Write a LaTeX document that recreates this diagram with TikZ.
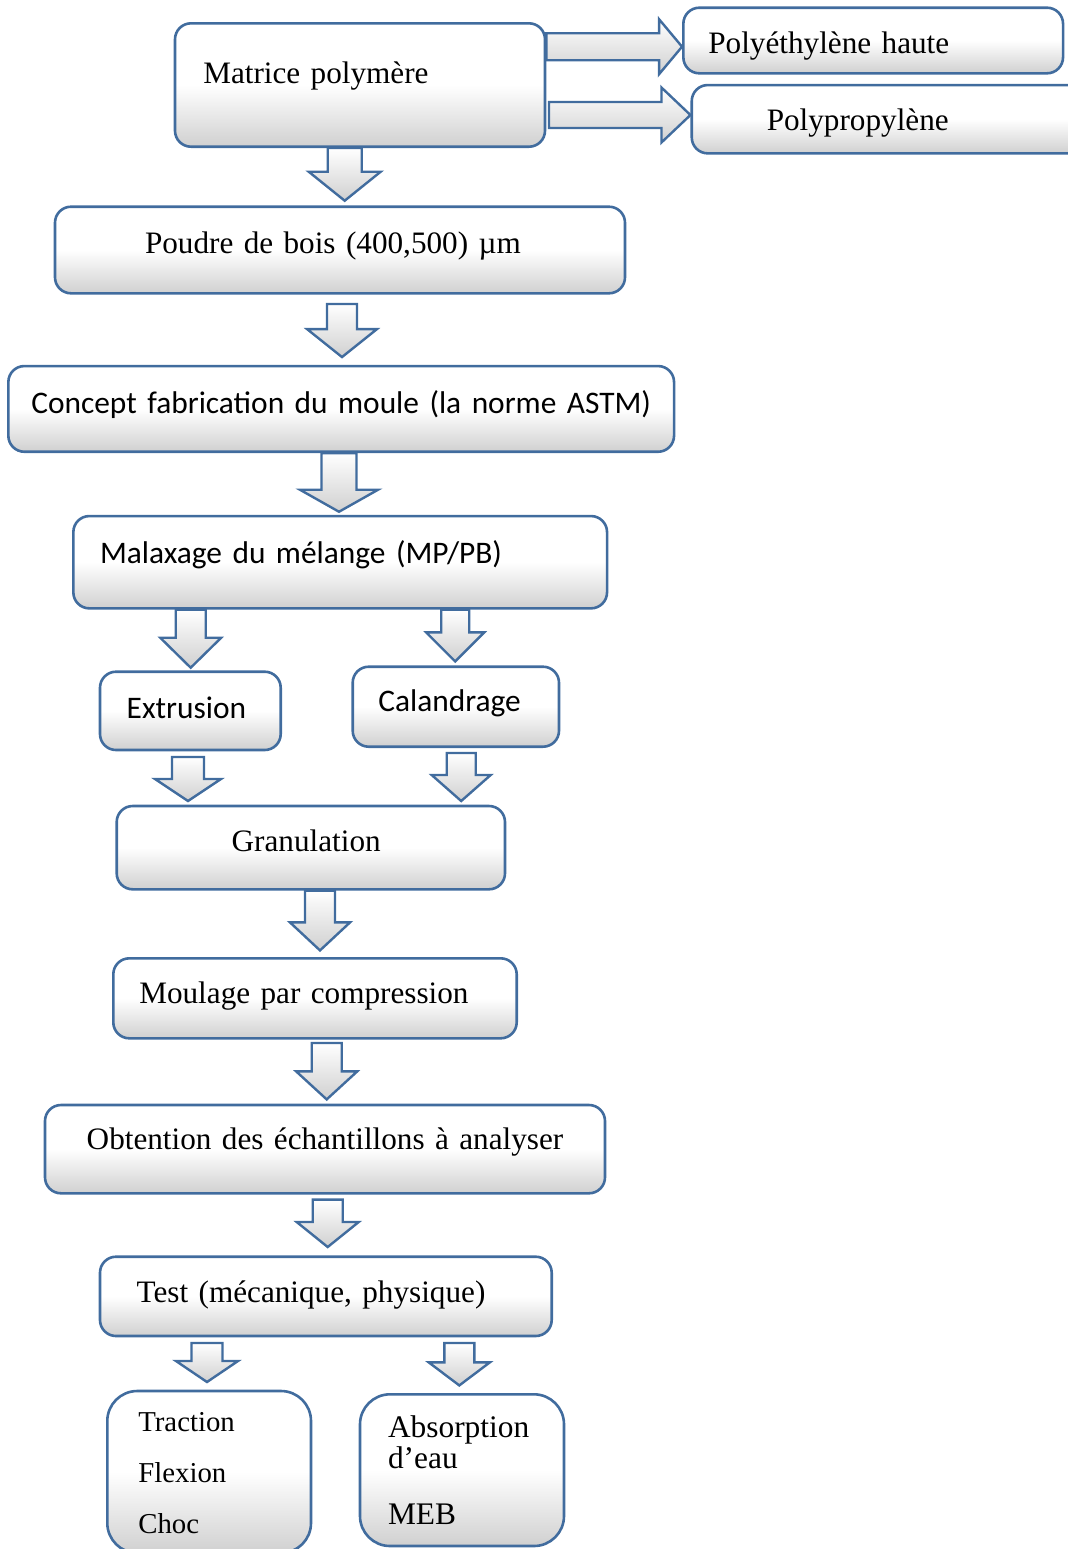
\documentclass[tikz,border=0pt]{standalone}
\usepackage{fontspec}
\setmainfont{Liberation Serif}
\newfontfamily\calibri{Carlito}
\usepackage{tikz}
\usetikzlibrary{calc}

\definecolor{bleu}{RGB}{65,108,158}
\definecolor{gris}{RGB}{208,208,208}

\tikzset{
  etape/.style={rectangle, draw=bleu, line width=1.3pt, rounded corners=8pt,
    top color=white, bottom color=gris, middle color=white,
    inner ysep=0pt, align=left, font=\fontsize{15.6}{19}\selectfont},
  cal/.style={font=\calibri\fontsize{15.7}{19}\selectfont},
  fleche/.style={draw=bleu, line width=1.2pt, line join=miter,
    top color=white, bottom color=gris},
}

% block arrow: start, tip, shaft width, head width, head length (px)
\newcommand{\flechebas}[5]{%
  \draw[fleche] let \p1=#1, \p2=#2 in
    ({\x1-#3*0.25pt},\y1) -- ({\x1-#3*0.25pt},{\y2+#5*0.5pt}) -- ({\x1-#4*0.25pt},{\y2+#5*0.5pt})
    -- (\x1,\y2) -- ({\x1+#4*0.25pt},{\y2+#5*0.5pt}) -- ({\x1+#3*0.25pt},{\y2+#5*0.5pt})
    -- ({\x1+#3*0.25pt},\y1) -- cycle;}
\newcommand{\flechedroite}[5]{%
  \draw[fleche] let \p1=#1, \p2=#2 in
    (\x1,{\y1+#3*0.25pt}) -- ({\x2-#5*0.5pt},{\y1+#3*0.25pt}) -- ({\x2-#5*0.5pt},{\y1+#4*0.25pt})
    -- (\x2,\y1) -- ({\x2-#5*0.5pt},{\y1-#4*0.25pt}) -- ({\x2-#5*0.5pt},{\y1-#3*0.25pt})
    -- (\x1,{\y1-#3*0.25pt}) -- cycle;}

\begin{document}
\begin{tikzpicture}[x=0.5pt,y=-0.5pt]
  \useasboundingbox (0,0) rectangle (1067,1549);

  \node[etape, minimum height=61.7pt, inner xsep=14.15pt, text width=156.7pt, text height=8.3pt, text depth=10pt] (A) at (360,85) {Matrice polymère};
  \node[etape, minimum height=32.2pt, inner xsep=12.5pt, text width=164.85pt, text height=22.8pt, text depth=10pt] (PE) at (873.2,40.5) {Polyéthylène haute};
  \node[etape, minimum height=34.15pt, inner xsep=37.5pt, text width=121.65pt, text height=20.8pt, text depth=10pt] (PP) at (888.4,119.2) {Polypropylène};
  \node[etape, minimum height=43.3pt, inner xsep=45pt, text width=195pt, text height=13.3pt, text depth=10pt] (B) at (340,250) {Poudre de bois (400,500) µm};
  \node[etape, cal, align=center, minimum height=42.85pt, inner xsep=2pt, text width=328.85pt, text height=14.4pt, text depth=10pt] (C) at (341.2,408.9) {Concept fabrication du moule (la norme ASTM)};
  \node[etape, cal, minimum height=46.15pt, inner xsep=13.35pt, text width=240.15pt, text height=11.1pt, text depth=10pt] (D) at (340.2,562.2) {Malaxage du mélange (MP/PB)};
  \node[etape, cal, minimum height=39.15pt, inner xsep=13.35pt, text width=63.65pt, text height=17.5pt, text depth=10pt] (Ext) at (190.35,710.85) {Extrusion};
  \node[etape, cal, minimum height=40pt, inner xsep=12.8pt, text width=77.55pt, text height=15pt, text depth=10pt] (Cal) at (455.85,706.7) {Calandrage};
  \node[etape, minimum height=41.65pt, inner xsep=57.5pt, text width=79.15pt, text height=14.05pt, text depth=10pt] (Gra) at (310.85,847.65) {Granulation};
  \node[etape, minimum height=40pt, inner xsep=13pt, text width=175.7pt, text height=15pt, text depth=10pt] (Mou) at (315,998.3) {Moulage par compression};
  \node[etape, align=center, minimum height=44.15pt, inner xsep=10pt, text width=260pt, text height=10.8pt, text depth=10pt] (Obt) at (325,1149.15) {Obtention des échantillons à analyser};
  \node[etape, minimum height=39.65pt, inner xsep=18.35pt, text width=189.15pt, text height=16.35pt, text depth=10pt] (Tst) at (325.85,1296.35) {Test (mécanique, physique)};
  \node[etape, rounded corners=15pt, font=\fontsize{14.4}{25.5}\selectfont, minimum height=81pt, inner xsep=15.5pt, text width=70.85pt, text height=9.7pt, text depth=50pt] (Trc) at (209.15,1472) {Traction\\Flexion\\Choc};
  \node[etape, rounded corners=15pt, font=\fontsize{15.7}{15.5}\selectfont, minimum height=75.85pt, inner xsep=14pt, text width=74pt, text height=17.15pt, text depth=50pt] (Abs) at (462,1470.15) {Absorption\\d’eau\\[12.35pt]MEB};

  % matrix to the two polymers
  \flechedroite{(A.east |- 0,46.7)}{(PE.west |- 0,46.7)}{27}{55}{23}
  \flechedroite{($(A.east |- 0,115)+(2.7,0)$)}{(PP.west |- 0,115)}{26}{55}{29}

  % main chain
  \flechebas{(344.7,0 |- A.south)}{($(344.7,0 |- B.north)+(0,-4.7)$)}{34}{72}{29}
  \flechebas{($(342,0 |- B.south)+(0,9.4)$)}{($(342,0 |- C.north)+(0,-7.7)$)}{30}{70}{28}
  \flechebas{(339,0 |- C.south)}{($(339,0 |- D.north)+(0,-3)$)}{35}{78}{22}
  \flechebas{(190.7,0 |- D.south)}{($(190.7,0 |- Ext.north)+(0,-2.7)$)}{30}{61}{30} % to extrusion
  \flechebas{(455.2,0 |- D.south)}{($(455.2,0 |- Cal.north)+(0,-4)$)}{28}{58}{29} % to calandrage
  \flechebas{($(188,0 |- Ext.south)+(0,5.7)$)}{($(188,0 |- Gra.north)+(0,-3.7)$)}{32}{66}{22}
  \flechebas{($(461.2,0 |- Cal.south)+(0,5)$)}{($(461.2,0 |- Gra.north)+(0,-3.7)$)}{29}{59}{26}
  \flechebas{(320,0 |- Gra.south)}{($(320,0 |- Mou.north)+(0,-6.6)$)}{30}{60}{28}
  \flechebas{($(326.7,0 |- Mou.south)+(0,3.4)$)}{($(326.7,0 |- Obt.north)+(0,-4.3)$)}{30}{61}{28}
  \flechebas{($(327.7,0 |- Obt.south)+(0,5)$)}{($(327.7,0 |- Tst.north)+(0,-8.4)$)}{30}{62}{25}
  \flechebas{($(207,0 |- Tst.south)+(0,5.7)$)}{($(207,0 |- Trc.north)+(0,-7.7)$)}{31}{62}{21} % mechanical tests
  \flechebas{($(459.3,0 |- Tst.south)+(0,5.7)$)}{($(459.3,0 |- Abs.north)+(0,-7.6)$)}{30}{61}{23} % physical tests
\end{tikzpicture}
\end{document}
